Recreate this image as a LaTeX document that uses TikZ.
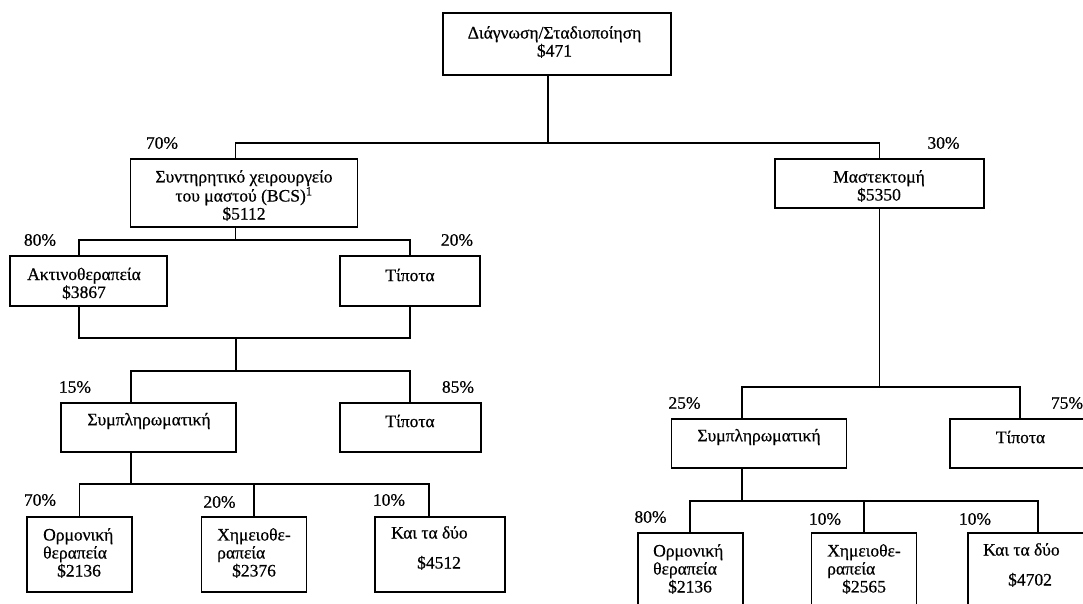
\documentclass[tikz,border=0pt]{standalone}
\usepackage{fontspec}
\setmainfont{Liberation Serif}[FakeBold=0.6]
\begin{document}
\begin{tikzpicture}[x=1pt,y=-1pt,
  box/.style={draw, line width=1.8pt, inner sep=0pt, outer sep=0pt},
  txt/.style={font=\fontsize{17.5}{18}\selectfont, inner sep=0pt, align=center},
  ltxt/.style={font=\fontsize{17.5}{18}\selectfont, inner sep=0pt, align=left, anchor=west},
  pct/.style={font=\fontsize{17.5}{18}\selectfont, inner sep=0pt},
  link/.style={line width=1.8pt}]
\useasboundingbox (0,0) rectangle (1083,603);
\clip (0,0) rectangle (1083,603);
\fill[white] (0,0) rectangle (1083,603);

% boxes
\node[box, minimum width=228, minimum height=62] (top) at (557,44) {};
\node[box, minimum width=227, minimum height=68] (bcs) at (244,193) {};
\node[box, minimum width=209, minimum height=49] (mast) at (879.5,183.5) {};
\node[box, minimum width=157, minimum height=50] (akt) at (88.3,281) {};
\node[box, minimum width=140, minimum height=50] (tip1) at (410,281) {};
\node[box, minimum width=175, minimum height=49] (sym1) at (148.75,427.5) {};
\node[box, minimum width=141, minimum height=49] (tip2) at (410.35,427.5) {};
\node[box, minimum width=105, minimum height=75] (leaf1) at (79.4,554.5) {};
\node[box, minimum width=105, minimum height=75] (leaf2) at (254,554.5) {};
\node[box, minimum width=130, minimum height=75] (leaf3) at (440.25,554.5) {};
\node[box, minimum width=175, minimum height=49] (sym2) at (759,443.5) {};
\node[box, minimum width=140, minimum height=49] (tip3) at (1020,443.5) {};
\node[box, minimum width=105, minimum height=75] (r1) at (690.2,570.5) {};
\node[box, minimum width=105, minimum height=75] (r2) at (864,570.5) {};
\node[box, minimum width=140, minimum height=75] (r3) at (1038,570.5) {};

% texts
\node[txt] (ttop) at (554.5,42) {Διάγνωση/Σταδιοποίηση\\\$471};
\node[txt] (tbcs) at (244,195.5) {Συντηρητικό χειρουργείο\\του μαστού (BCS)\textsuperscript{1}\\\$5112};
\node[txt] (tmast) at (879,186) {Μαστεκτομή\\\$5350};
\node[txt] (takt) at (84,283.5) {Ακτινοθεραπεία\\\$3867};
\node[txt] (ttip1) at (410,275) {Τίποτα};
\node[txt] (tsym1) at (149,421) {Συμπληρωματική};
\node[txt] (ttip2) at (410,421) {Τίποτα};
\node[ltxt] (tleaf1) at (43,553) {Ορμονική\\θεραπεία\\\hspace*{14pt}\$2136};
\node[ltxt] (tleaf2) at (217,553) {Χημειοθε-\\ραπεία\\\hspace*{15pt}\$2376};
\node[ltxt] (tleaf3) at (391,548) {Και τα δύο\\[12pt]\hspace*{26pt}\$4512};
\node[txt] (tsym2) at (759,437) {Συμπληρωματική};
\node[txt] (ttip3) at (1020.5,437) {Τίποτα};
\node[ltxt] (tr1) at (653,569) {Ορμονική\\θεραπεία\\\hspace*{15pt}\$2136};
\node[ltxt] (tr2) at (827,569) {Χημειοθε-\\ραπεία\\\hspace*{15pt}\$2565};
\node[ltxt] (tr3) at (983,565) {Και τα δύο\\[12pt]\hspace*{25pt}\$4702};

% percentages
\node[pct] (p1) at (162,143) {70\%};
\node[pct] (p2) at (943.5,143) {30\%};
\node[pct] (p3) at (40,240) {80\%};
\node[pct] (p4) at (457,240) {20\%};
\node[pct] (p5) at (75,387) {15\%};
\node[pct] (p6) at (458,387) {85\%};
\node[pct] (p7) at (40,500) {70\%};
\node[pct] (p8) at (219.5,502) {20\%};
\node[pct] (p9) at (389,500) {10\%};
\node[pct] (p10) at (684.5,403) {25\%};
\node[pct] (p11) at (1067,403) {75\%};
\node[pct] (p12) at (650.5,517) {80\%};
\node[pct] (p13) at (825,519) {10\%};
\node[pct] (p14) at (975,519) {10\%};

% connectors
\draw[link] ([xshift=-9]top.south) -- ++(0,68) coordinate (j1);
\draw[link] ([xshift=-8.5]bcs.north) |- (j1) -| (mast.north);
\draw[link] ([xshift=-8.5]bcs.south) -- ++(0,13) coordinate (j2);
\draw[link] ([xshift=-9]akt.north) |- (j2) -| (tip1.north);
\coordinate (j3) at (236,338);
\draw[link] ([xshift=-9]akt.south) |- (j3) -| (tip1.south);
\draw[link] (j3) -- ++(0,33) coordinate (j4);
\draw[link] ([xshift=-17.75]sym1.north) |- (j4) -| (tip2.north);
\draw[link] ([xshift=-17.75]sym1.south) -- ++(0,32) coordinate (j5);
\draw[link] (leaf1.north) |- (j5) -| ([xshift=-11.5]leaf3.north);
\draw[link] (leaf2.north) -- (leaf2.north |- j5);
\draw[link] (mast.south) -- ++(0,179) coordinate (j6);
\draw[link] ([xshift=-17]sym2.north) |- (j6) -| (tip3.north);
\draw[link] ([xshift=-17]sym2.south) -- ++(0,33) coordinate (j7);
\draw[link] (r1.north) |- (j7) -| (r3.north);
\draw[link] (r2.north) -- (r2.north |- j7);
\end{tikzpicture}
\end{document}
